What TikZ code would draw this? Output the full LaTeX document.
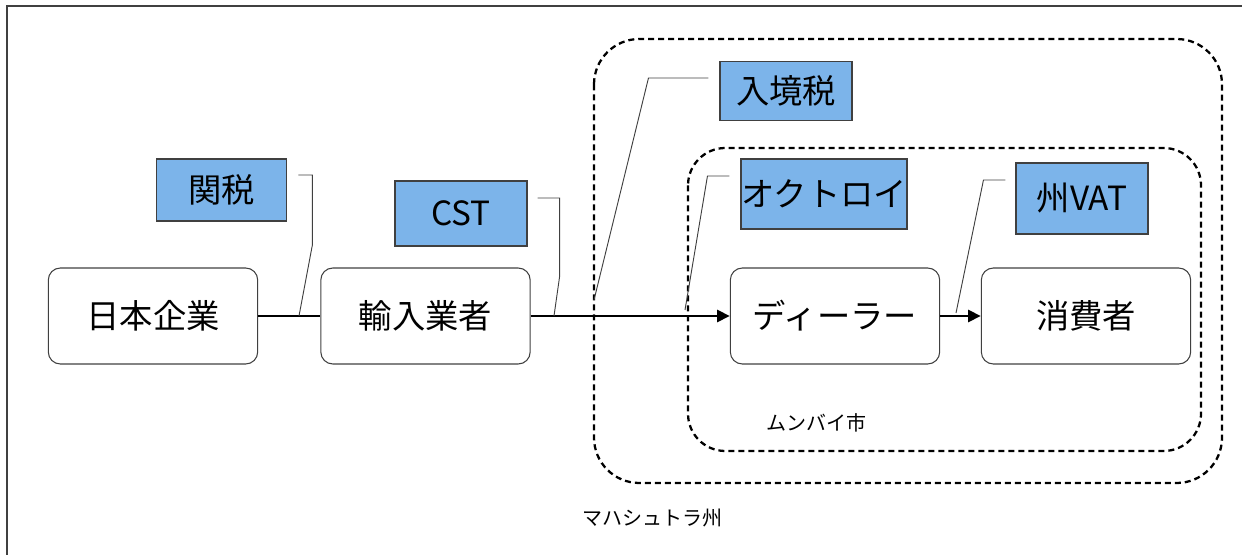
\documentclass[tikz,border=0pt]{standalone}
\usepackage{fontspec}
\setmainfont{Noto Sans CJK JP}
\usetikzlibrary{calc, arrows.meta, positioning}
\definecolor{taxblue}{RGB}{124,180,234}
\definecolor{edgegray}{RGB}{64,64,64}

\begin{document}
\begin{tikzpicture}[x=0.75pt,y=-0.75pt,
    every node/.style={font=\fontsize{25}{29}\selectfont, inner sep=0pt},
    actor/.style={draw=edgegray, line width=0.8pt, rounded corners=9pt, minimum width=157pt, minimum height=72pt},
    taxbox/.style={draw=edgegray, line width=0.8pt, fill=taxblue, minimum width=99pt},
    region/.style={dashed, line width=1.7pt, dash pattern=on 4.5pt off 3pt},
    leader/.style={draw=edgegray, line width=0.7pt},
    flow/.style={line width=1.8pt, -{Triangle[length=9.5pt,width=9pt]}},
    place/.style={font=\fontsize{15}{18}\selectfont}]
    \useasboundingbox (0,0) rectangle (1242,555);
    \draw[edgegray, line width=1.5pt] (7,555) -- (7,6) -- (1242,6);
    % regions
    \draw[region, rounded corners=34pt] (594,39) rectangle (1222,483);
    \draw[region, rounded corners=28pt] (688,148) rectangle (1201,451);
    \node[place] (mumbai) at (816,423) {ムンバイ市};
    \node[place] (maha) at (652,518) {マハシュトラ州};
    % actors
    \node[actor] (nihon) at (153,316) {日本企業};
    \node[actor] (yunyu) at (425.5,316) {輸入業者};
    \node[actor] (dealer) at (835,316) {ディーラー};
    \node[actor] (shohi) at (1086,316) {消費者};
    \draw[line width=0.8pt] (nihon) -- (yunyu);
    \draw[flow] (yunyu) -- (dealer);
    \draw[flow] (dealer) -- (shohi);
    % taxes
    \node[taxbox, minimum width=98pt, minimum height=46.5pt] (kanzei) at (221.5,190) {関税};
    \node[taxbox, minimum height=48.75pt] (cst) at (461,213.5) {CST};
    \node[taxbox, minimum height=44.25pt] (nyukyo) at (786,91) {入境税};
    \node[taxbox, minimum width=124.5pt, minimum height=52.5pt] (octroi) at (824,194) {オクトロイ};
    \node[taxbox, minimum height=53.25pt] (vat) at (1082,198.5) {州VAT};
    \coordinate (kanzeitip) at (299,316);
    \coordinate (csttip) at (554,316);
    \coordinate (nyukyotip) at (594,300);
    \coordinate (octroitip) at (685,310);
    \coordinate (vattip) at (956,313);
    \draw[leader] ($(kanzei.east)+(11,-15)$) -- ++(14,0) -- ++(0,70) -- (kanzeitip);
    \draw[leader] ($(cst.east)+(10,-15.5)$) -- ++(22,0) -- ++(0,79) -- (csttip);
    \draw[leader] ($(nyukyo.west)+(-11,-13)$) -- ++(-60,0) -- (nyukyotip);
    \draw[leader] ($(octroi.west)+(-11,-18)$) -- ++(-22,0) -- (octroitip);
    \draw[leader] ($(vat.west)+(-10,-18.5)$) -- ++(-22,0) -- (vattip);
\end{tikzpicture}
\end{document}
